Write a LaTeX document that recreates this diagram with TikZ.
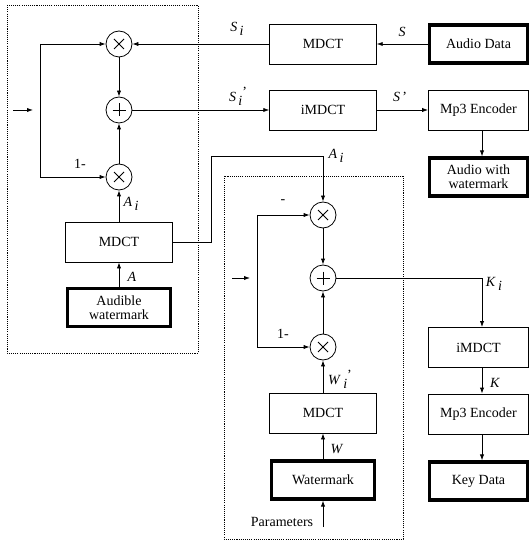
\documentclass[tikz,border=0pt]{standalone}
\usepackage{fontspec}
\setmainfont{LiberationSerif}[Extension=.ttf, UprightFont=*-Regular, ItalicFont=*-Italic, BoldFont=*-Bold, BoldItalicFont=*-BoldItalic]
\usetikzlibrary{arrows.meta}
\newcommand{\subi}[2]{\textit{#1}\,\raisebox{-0.6ex}{\textit{#2}}}
\newcommand{\subpi}[2]{\textit{#1}\,\raisebox{-0.6ex}{\textit{#2}}\raisebox{0.8ex}{'}}
\begin{document}
\begin{tikzpicture}[x=0.75pt,y=-0.75pt,
  font=\rmfamily\fontsize{10.5}{10.5}\selectfont,
  box/.style={draw, line width=0.6pt, minimum width=80pt, minimum height=30pt, inner sep=0pt, align=center},
  rbox/.style={box, minimum width=75pt},
  tbox/.style={draw, line width=2.3pt, minimum width=77pt, minimum height=28.5pt, inner sep=0pt, align=center},
  rtbox/.style={tbox, minimum width=74pt},
  op/.style={circle, draw, line width=0.6pt, minimum size=19.5pt, inner sep=0pt},
  arr/.style={-{Latex[length=4.5pt,width=3.2pt]}, line width=0.6pt},
  ln/.style={line width=0.6pt},
  frame/.style={line width=0.6pt, dash pattern=on 0.8pt off 0.8pt},
  lbl/.style={inner sep=0pt}]
\useasboundingbox (0,0) rectangle (530,541);

% dotted frames
\draw[frame] (7,5) rectangle (198,353);
\draw[frame] (224,176) rectangle (403,539);

% operators, left
\node[op] (t1) at (119,44) {};
\node[op] (p1) at (119,110) {};
\node[op] (t2) at (119,177) {};
% operators, lower
\node[op] (t3) at (323,215) {};
\node[op] (p2) at (323,278) {};
\node[op] (t4) at (323,347) {};
\foreach \n in {t1,t2,t3,t4}{
  \draw[ln] (\n) ++(-5,-5) -- ++(10,10);
  \draw[ln] (\n) ++(-5,5) -- ++(10,-10);
}
\foreach \n in {p1,p2}{
  \draw[ln] (\n) ++(-6.5,0) -- ++(13,0);
  \draw[ln] (\n) ++(0,-6.5) -- ++(0,13);
}

% boxes
\node[box] (mdctA) at (119,242) {MDCT};
\node[tbox] (aud) at (119,307.5) {Audible\\watermark};
\node[box] (mdctS) at (323,44) {MDCT};
\node[box] (imdct1) at (323,110) {iMDCT};
\node[rtbox] (audio) at (478.5,44) {Audio Data};
\node[rbox] (mp3a) at (478.5,110) {Mp3 Encoder};
\node[rtbox] (awm) at (478.5,177) {Audio with\\watermark};
\node[box] (mdctW) at (323,413) {MDCT};
\node[tbox] (wm) at (323,480) {Watermark};
\node[rbox] (imdct2) at (478.5,347.5) {iMDCT};
\node[rbox] (mp3b) at (478.5,414) {Mp3 Encoder};
\node[rtbox] (key) at (478.5,481) {Key Data};

% coordinates
\coordinate (inA0) at (13,110);
\coordinate (inA1) at (33,110);
\coordinate (brA1) at (40,44);
\coordinate (brA2) at (40,177);
\coordinate (inB0) at (232,278);
\coordinate (inB1) at (250,278);
\coordinate (brB1) at (257,215);
\coordinate (brB2) at (257,347);
\coordinate (rA1) at (211,242);
\coordinate (rA2) at (211,156);
\coordinate (rA3) at (323,156);
\coordinate (kc) at (482,278);
\coordinate (par) at (323,527);

% top path
\draw[arr] (audio) -- (mdctS);
\draw[arr] (mdctS) -- (t1);
\draw[arr] (t1) -- (p1);
\draw[arr] (t2) -- (p1);
\draw[arr] (p1) -- (imdct1);
\draw[arr] (imdct1) -- (mp3a);
\draw[arr] (kc |- mp3a.south) -- (kc |- awm.north);
\draw[arr] (inA0) -- (inA1);
\draw[ln] (brA1) -- (brA2);
\draw[arr] (brA1) -- (t1);
\draw[arr] (brA2) -- (t2);
\draw[arr] (mdctA) -- (t2);
\draw[arr] (aud) -- (mdctA);
\draw[arr] (mdctA.east) -- (rA1) -- (rA2) -- (rA3) -- (t3);

% lower path
\draw[arr] (inB0) -- (inB1);
\draw[ln] (brB1) -- (brB2);
\draw[arr] (brB1) -- (t3);
\draw[arr] (brB2) -- (t4);
\draw[arr] (t3) -- (p2);
\draw[arr] (t4) -- (p2);
\draw[arr] (mdctW) -- (t4);
\draw[arr] (wm) -- (mdctW);
\draw[arr] (par) -- (wm);
\draw[arr] (p2) -- (kc) -- (kc |- imdct2.north);
\draw[arr] (kc |- imdct2.south) -- (kc |- mp3b.north);
\draw[arr] (kc |- mp3b.south) -- (kc |- key.north);

% labels
\node[lbl] (lS) at (402,32) {\textit{S}};
\node[lbl] (lSi) at (237,29) {\subi{S}{i}};
\node[lbl] (lSpi) at (238,96) {\subpi{S}{i}};
\node[lbl] (lSp) at (400,97) {\textit{S}\,'};
\node[lbl] (l1a) at (80,164) {1-};
\node[lbl] (lAi) at (131,204) {\subi{A}{i}};
\node[lbl] (lA) at (132,277) {\textit{A}};
\node[lbl] (lAi2) at (336,156) {\subi{A}{i}};
\node[lbl] (lm) at (283,202) {-};
\node[lbl] (l1b) at (283,334) {1-};
\node[lbl] (lKi) at (494,284) {\subi{K}{i}};
\node[lbl] (lK) at (495,383) {\textit{K}};
\node[lbl] (lWpi) at (340,379) {\subpi{W}{i}};
\node[lbl] (lW) at (337,449) {\textit{W}};
\node[lbl] (lpar) at (282,522) {Parameters};
\end{tikzpicture}
\end{document}
